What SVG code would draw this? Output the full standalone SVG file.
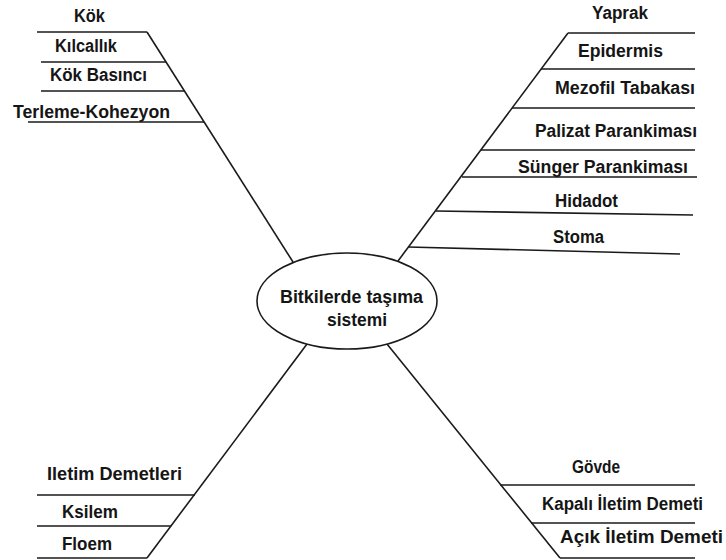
<svg xmlns="http://www.w3.org/2000/svg" width="726" height="560" viewBox="0 0 726 560">
<style>
.t{font-family:"Liberation Sans",Arial,sans-serif;font-weight:bold;font-size:18px;fill:#151515}
.l{stroke:#1a1a1a;stroke-width:1.6;fill:none}
</style>
<rect width="726" height="560" fill="#fff"/>
<g id="connectors" class="l">
<line x1="147" y1="32" x2="293" y2="262"/>
<line x1="568" y1="33" x2="398" y2="261"/>
<line x1="147" y1="558" x2="307" y2="344"/>
<line x1="560" y1="558" x2="387" y2="344"/>
</g>
<g id="center">
<ellipse cx="347" cy="301" rx="90" ry="48" class="l"/>
<text class="t" x="280" y="303" textLength="143" lengthAdjust="spacingAndGlyphs">Bitkilerde taşıma</text>
<text class="t" x="327" y="326" textLength="60" lengthAdjust="spacingAndGlyphs">sistemi</text>
</g>
<g id="kok">
<text class="t" x="74" y="22" textLength="31" lengthAdjust="spacingAndGlyphs">Kök</text>
<line class="l" x1="37" y1="32" x2="147" y2="32"/>
</g>
<g id="kilcallik">
<text class="t" x="55" y="52" textLength="62" lengthAdjust="spacingAndGlyphs">Kılcallık</text>
<line class="l" x1="41" y1="62" x2="166" y2="62"/>
</g>
<g id="kok-basinci">
<text class="t" x="50" y="81" textLength="97" lengthAdjust="spacingAndGlyphs">Kök Basıncı</text>
<line class="l" x1="41" y1="91" x2="184" y2="91"/>
</g>
<g id="terleme">
<text class="t" x="13" y="118" textLength="157" lengthAdjust="spacingAndGlyphs">Terleme-Kohezyon</text>
<line class="l" x1="28" y1="122" x2="204" y2="122"/>
</g>
<g id="yaprak">
<text class="t" x="592" y="19" textLength="56" lengthAdjust="spacingAndGlyphs">Yaprak</text>
<line class="l" x1="568" y1="33" x2="695" y2="33"/>
</g>
<g id="epidermis">
<text class="t" x="578" y="57" textLength="85" lengthAdjust="spacingAndGlyphs">Epidermis</text>
<line class="l" x1="541" y1="69" x2="695" y2="69"/>
</g>
<g id="mezofil">
<text class="t" x="555" y="94" textLength="140" lengthAdjust="spacingAndGlyphs">Mezofil Tabakası</text>
<line class="l" x1="512" y1="108" x2="695" y2="108"/>
</g>
<g id="palizat">
<text class="t" x="535" y="137" textLength="162" lengthAdjust="spacingAndGlyphs">Palizat Parankiması</text>
<line class="l" x1="481" y1="150" x2="695" y2="150"/>
</g>
<g id="sunger">
<text class="t" x="518" y="173" textLength="170" lengthAdjust="spacingAndGlyphs">Sünger Parankiması</text>
<line class="l" x1="462" y1="177" x2="697" y2="177"/>
</g>
<g id="hidadot">
<text class="t" x="555" y="207" textLength="63" lengthAdjust="spacingAndGlyphs">Hidadot</text>
<line class="l" x1="436" y1="211" x2="693" y2="215"/>
</g>
<g id="stoma">
<text class="t" x="553" y="243" textLength="51" lengthAdjust="spacingAndGlyphs">Stoma</text>
<line class="l" x1="408" y1="247" x2="680" y2="254"/>
</g>
<g id="iletim-demetleri">
<text class="t" x="47" y="480" textLength="135" lengthAdjust="spacingAndGlyphs">Iletim Demetleri</text>
<line class="l" x1="37" y1="495" x2="195" y2="495"/>
</g>
<g id="ksilem">
<text class="t" x="62" y="518" textLength="56" lengthAdjust="spacingAndGlyphs">Ksilem</text>
<line class="l" x1="37" y1="526" x2="171" y2="526"/>
</g>
<g id="floem">
<text class="t" x="62" y="550" textLength="50" lengthAdjust="spacingAndGlyphs">Floem</text>
<line class="l" x1="37" y1="558" x2="147" y2="558"/>
</g>
<g id="govde">
<text class="t" x="572" y="473" textLength="48" lengthAdjust="spacingAndGlyphs">Gövde</text>
<line class="l" x1="500" y1="485" x2="695" y2="485"/>
</g>
<g id="kapali">
<text class="t" x="542" y="510" textLength="161" lengthAdjust="spacingAndGlyphs">Kapalı İletim Demeti</text>
<line class="l" x1="531" y1="523" x2="695" y2="523"/>
</g>
<g id="acik">
<text class="t" x="560" y="543" textLength="163" lengthAdjust="spacingAndGlyphs">Açık İletim Demeti</text>
<line class="l" x1="560" y1="558" x2="695" y2="558"/>
</g>
</svg>
